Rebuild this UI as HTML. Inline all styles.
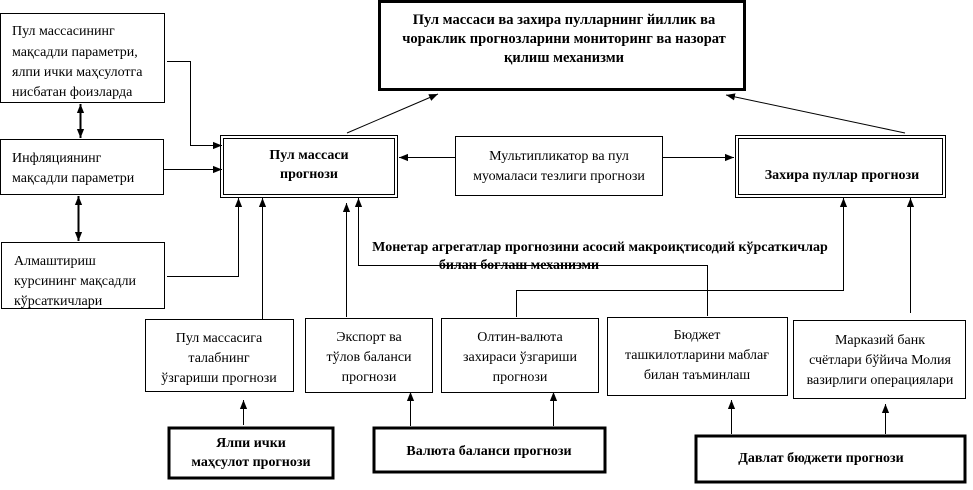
<!DOCTYPE html>
<html><head><meta charset="utf-8"><style>
body{margin:0;background:#fff;}
svg text{font-family:"Liberation Serif",serif;font-size:14px;fill:#000;}
.b{font-weight:bold;}
</style></head><body>
<svg width="973" height="485" viewBox="0 0 973 485" xmlns="http://www.w3.org/2000/svg">
<defs>
<marker id="a" viewBox="0 0 10 10" refX="10" refY="5" markerUnits="userSpaceOnUse" markerWidth="9" markerHeight="9" orient="auto-start-reverse"><path d="M0,1 L10,5 L0,9 z" fill="#000"/></marker>
</defs>
<g fill="none" stroke="#000" stroke-width="1">
<rect x="379.5" y="1.5" width="365" height="88" stroke-width="3"/>
<rect x="0.5" y="13.5" width="164" height="89"/>
<rect x="0.5" y="139.5" width="163" height="55"/>
<rect x="1.5" y="242.5" width="163" height="66"/>
<rect x="220.5" y="135.5" width="177" height="62"/>
<rect x="223.5" y="138.5" width="171" height="56"/>
<rect x="455.5" y="136.5" width="207" height="59"/>
<rect x="735.5" y="135.5" width="210" height="62"/>
<rect x="738.5" y="138.5" width="204" height="56"/>
<rect x="145.5" y="319.5" width="148" height="72"/>
<rect x="305.5" y="318.5" width="127" height="74"/>
<rect x="441.5" y="318.5" width="157" height="74"/>
<rect x="607.5" y="317.5" width="180" height="78"/>
<rect x="793.5" y="320.5" width="172" height="78"/>
<rect x="169" y="428" width="164" height="50" stroke-width="3"/>
<rect x="374" y="428" width="231" height="44" stroke-width="3"/>
<rect x="696" y="436" width="269" height="46" stroke-width="3"/>
<line x1="347" y1="133" x2="438" y2="94" marker-end="url(#a)"/>
<line x1="905" y1="133" x2="726" y2="95" marker-end="url(#a)"/>
<line x1="80.5" y1="104" x2="80.5" y2="138" stroke-width="2" marker-start="url(#a)" marker-end="url(#a)"/>
<line x1="78.5" y1="196" x2="78.5" y2="241" stroke-width="2" marker-start="url(#a)" marker-end="url(#a)"/>
<polyline points="167,61.5 190.5,61.5 190.5,145.5 222,145.5" marker-end="url(#a)"/>
<line x1="164" y1="169.5" x2="222" y2="169.5" marker-end="url(#a)"/>
<polyline points="167,276.5 238.5,276.5 238.5,198" marker-end="url(#a)"/>
<line x1="455" y1="157.5" x2="399" y2="157.5" marker-end="url(#a)"/>
<line x1="663" y1="157.5" x2="734" y2="157.5" marker-end="url(#a)"/>
<line x1="262.5" y1="319" x2="262.5" y2="198" marker-end="url(#a)"/>
<line x1="346.5" y1="317" x2="346.5" y2="203" marker-end="url(#a)"/>
<polyline points="707.5,316 707.5,265.5 358.5,265.5 358.5,198" marker-end="url(#a)"/>
<polyline points="516.5,317 516.5,290.5 843.5,290.5 843.5,198" marker-end="url(#a)"/>
<line x1="910.5" y1="313" x2="910.5" y2="198" marker-end="url(#a)"/>
<line x1="243.5" y1="425" x2="243.5" y2="400" marker-end="url(#a)"/>
<line x1="410.5" y1="426" x2="410.5" y2="392" marker-end="url(#a)"/>
<line x1="553.5" y1="426" x2="553.5" y2="392" marker-end="url(#a)"/>
<line x1="731.5" y1="434" x2="731.5" y2="400" marker-end="url(#a)"/>
<line x1="885.5" y1="434" x2="885.5" y2="404" marker-end="url(#a)"/>
</g>
<g class="b" text-anchor="middle">
<text x="564" y="24" style="font-size:14.5px">Пул массаси ва захира пулларнинг йиллик ва</text>
<text x="564" y="43" style="font-size:14.5px">чораклик прогнозларини мониторинг ва назорат</text>
<text x="564" y="62" style="font-size:14.5px">қилиш механизми</text>
<text x="309" y="159">Пул массаси</text>
<text x="309" y="178">прогнози</text>
<text x="842" y="179">Захира пуллар прогнози</text>
<text x="600" y="251">Монетар агрегатлар прогнозини асосий макроиқтисодий кўрсаткичлар</text>
<text x="519" y="269">билан боғлаш механизми</text>
<text x="251" y="447">Ялпи ички</text>
<text x="251" y="466">маҳсулот прогнози</text>
<text x="489" y="455">Валюта баланси прогнози</text>
<text x="821" y="462">Давлат бюджети прогнози</text>
</g>
<g>
<text x="12" y="35">Пул массасининг</text>
<text x="12" y="56">мақсадли параметри,</text>
<text x="12" y="76">ялпи ички маҳсулотга</text>
<text x="12" y="96">нисбатан фоизларда</text>
<text x="12" y="162">Инфляциянинг</text>
<text x="12" y="182">мақсадли параметри</text>
<text x="14" y="265">Алмаштириш</text>
<text x="14" y="285">курсининг мақсадли</text>
<text x="14" y="305">кўрсаткичлари</text>
</g>
<g text-anchor="middle">
<text x="559" y="160">Мультипликатор ва пул</text>
<text x="559" y="180">муомаласи тезлиги прогнози</text>
<text x="219" y="342">Пул массасига</text>
<text x="219" y="362">талабнинг</text>
<text x="219" y="382">ўзгариши прогнози</text>
<text x="369" y="341">Экспорт ва</text>
<text x="369" y="361">тўлов баланси</text>
<text x="369" y="381">прогнози</text>
<text x="520" y="341">Олтин-валюта</text>
<text x="520" y="361">захираси ўзгариши</text>
<text x="520" y="381">прогнози</text>
<text x="697" y="339">Бюджет</text>
<text x="697" y="359">ташкилотларини маблағ</text>
<text x="697" y="379">билан таъминлаш</text>
<text x="880" y="344">Марказий банк</text>
<text x="880" y="364">счётлари бўйича Молия</text>
<text x="880" y="384">вазирлиги операциялари</text>
</g>
</svg>
</body></html>
